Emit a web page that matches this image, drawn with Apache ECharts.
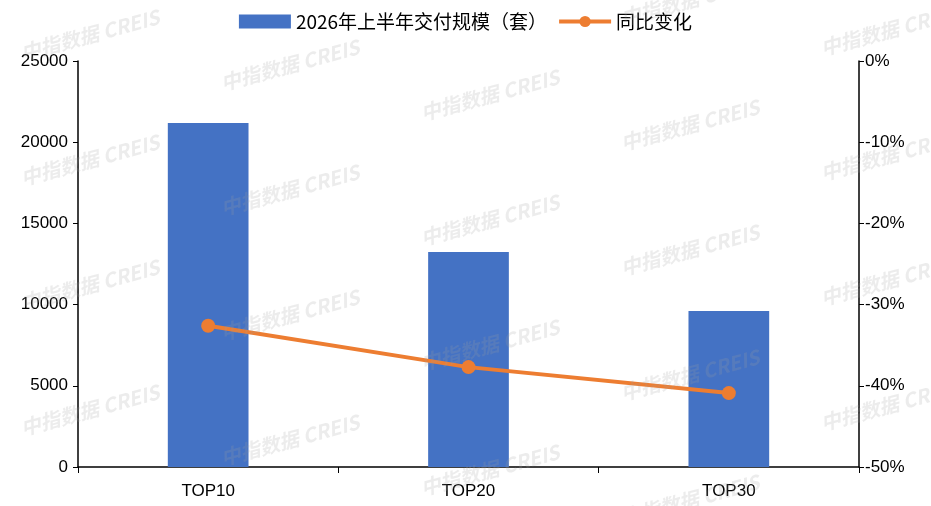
<!DOCTYPE html>
<html><head><meta charset="utf-8">
<script src="https://cdn.jsdelivr.net/npm/echarts@6/dist/echarts.min.js"></script>
<style>html,body{margin:0;padding:0;background:#fff}#c{width:931px;height:506px}</style>
</head><body><div id="c"></div>
<script>
const categories = ['TOP10', 'TOP20', 'TOP30'];
const deliveries = [21180, 13240, 9600];
const yoyChange = [-32.6, -37.7, -40.9];
const seriesNames = ['2026年上半年交付规模（套）', '同比变化'];
const watermarkText = '中指数据 CREIS';

const chart = echarts.init(document.getElementById('c'));
const wm = [];
const colsX = [90, 290, 490, 690, 890];
colsX.forEach((cx, i) => {
  for (let r = -1; r < 5; r++) {
    const cy = 35 + i * 30 + r * 125;
    if (cy < -20 || cy > 530) continue;
    wm.push({
      type: 'text', x: cx, y: cy, rotation: 15 * Math.PI / 180, z: 100,
      style: { text: watermarkText, fill: 'rgba(160,160,160,0.2)', font: 'italic bold 20px "Noto Sans CJK SC", sans-serif', align: 'center', verticalAlign: 'middle' }
    });
  }
});
const axisFont = { fontFamily: '"Liberation Sans Narrow", "Liberation Sans", sans-serif', fontSize: 17, color: '#000' };
chart.setOption({
  animation: false,
  legend: {
    top: 7, left: 'center', itemWidth: 52, itemHeight: 14, itemGap: 10,
    textStyle: { fontFamily: '"Noto Sans CJK SC", sans-serif', fontSize: 19, color: '#000' },
    data: [
      { name: seriesNames[0], icon: 'rect' },
      { name: seriesNames[1], itemStyle: { color: '#ED7D31' }, lineStyle: { width: 4, color: '#ED7D31' } }
    ]
  },
  grid: { left: 78, right: 72, top: 61, bottom: 39, containLabel: false },
  xAxis: {
    type: 'category', data: categories,
    axisLine: { lineStyle: { color: '#000', width: 1.5 } },
    axisTick: { show: true, alignWithLabel: false, length: 6, lineStyle: { color: '#000' } },
    axisLabel: Object.assign({ margin: 16 }, axisFont)
  },
  yAxis: [{
    type: 'value', min: 0, max: 25000, interval: 5000,
    axisLine: { show: true, lineStyle: { color: '#000', width: 1.5 } },
    axisTick: { show: true, length: 5, lineStyle: { color: '#000' } },
    splitLine: { show: false },
    axisLabel: Object.assign({ margin: 10, formatter: v => String(v) }, axisFont)
  }, {
    type: 'value', min: -50, max: 0, interval: 10, position: 'right',
    axisLine: { show: true, lineStyle: { color: '#000', width: 1.5 } },
    axisTick: { show: true, length: 5, lineStyle: { color: '#000' } },
    splitLine: { show: false },
    axisLabel: Object.assign({ margin: 6, formatter: v => v + '%' }, axisFont)
  }],
  series: [{
    name: seriesNames[0], type: 'bar', data: deliveries, barWidth: '31%',
    itemStyle: { color: '#4472C4' }
  }, {
    name: seriesNames[1], type: 'line', yAxisIndex: 1, data: yoyChange,
    symbol: 'circle', symbolSize: 14,
    lineStyle: { color: '#ED7D31', width: 4 }, itemStyle: { color: '#ED7D31' }
  }],
  graphic: wm
});
</script></body></html>
